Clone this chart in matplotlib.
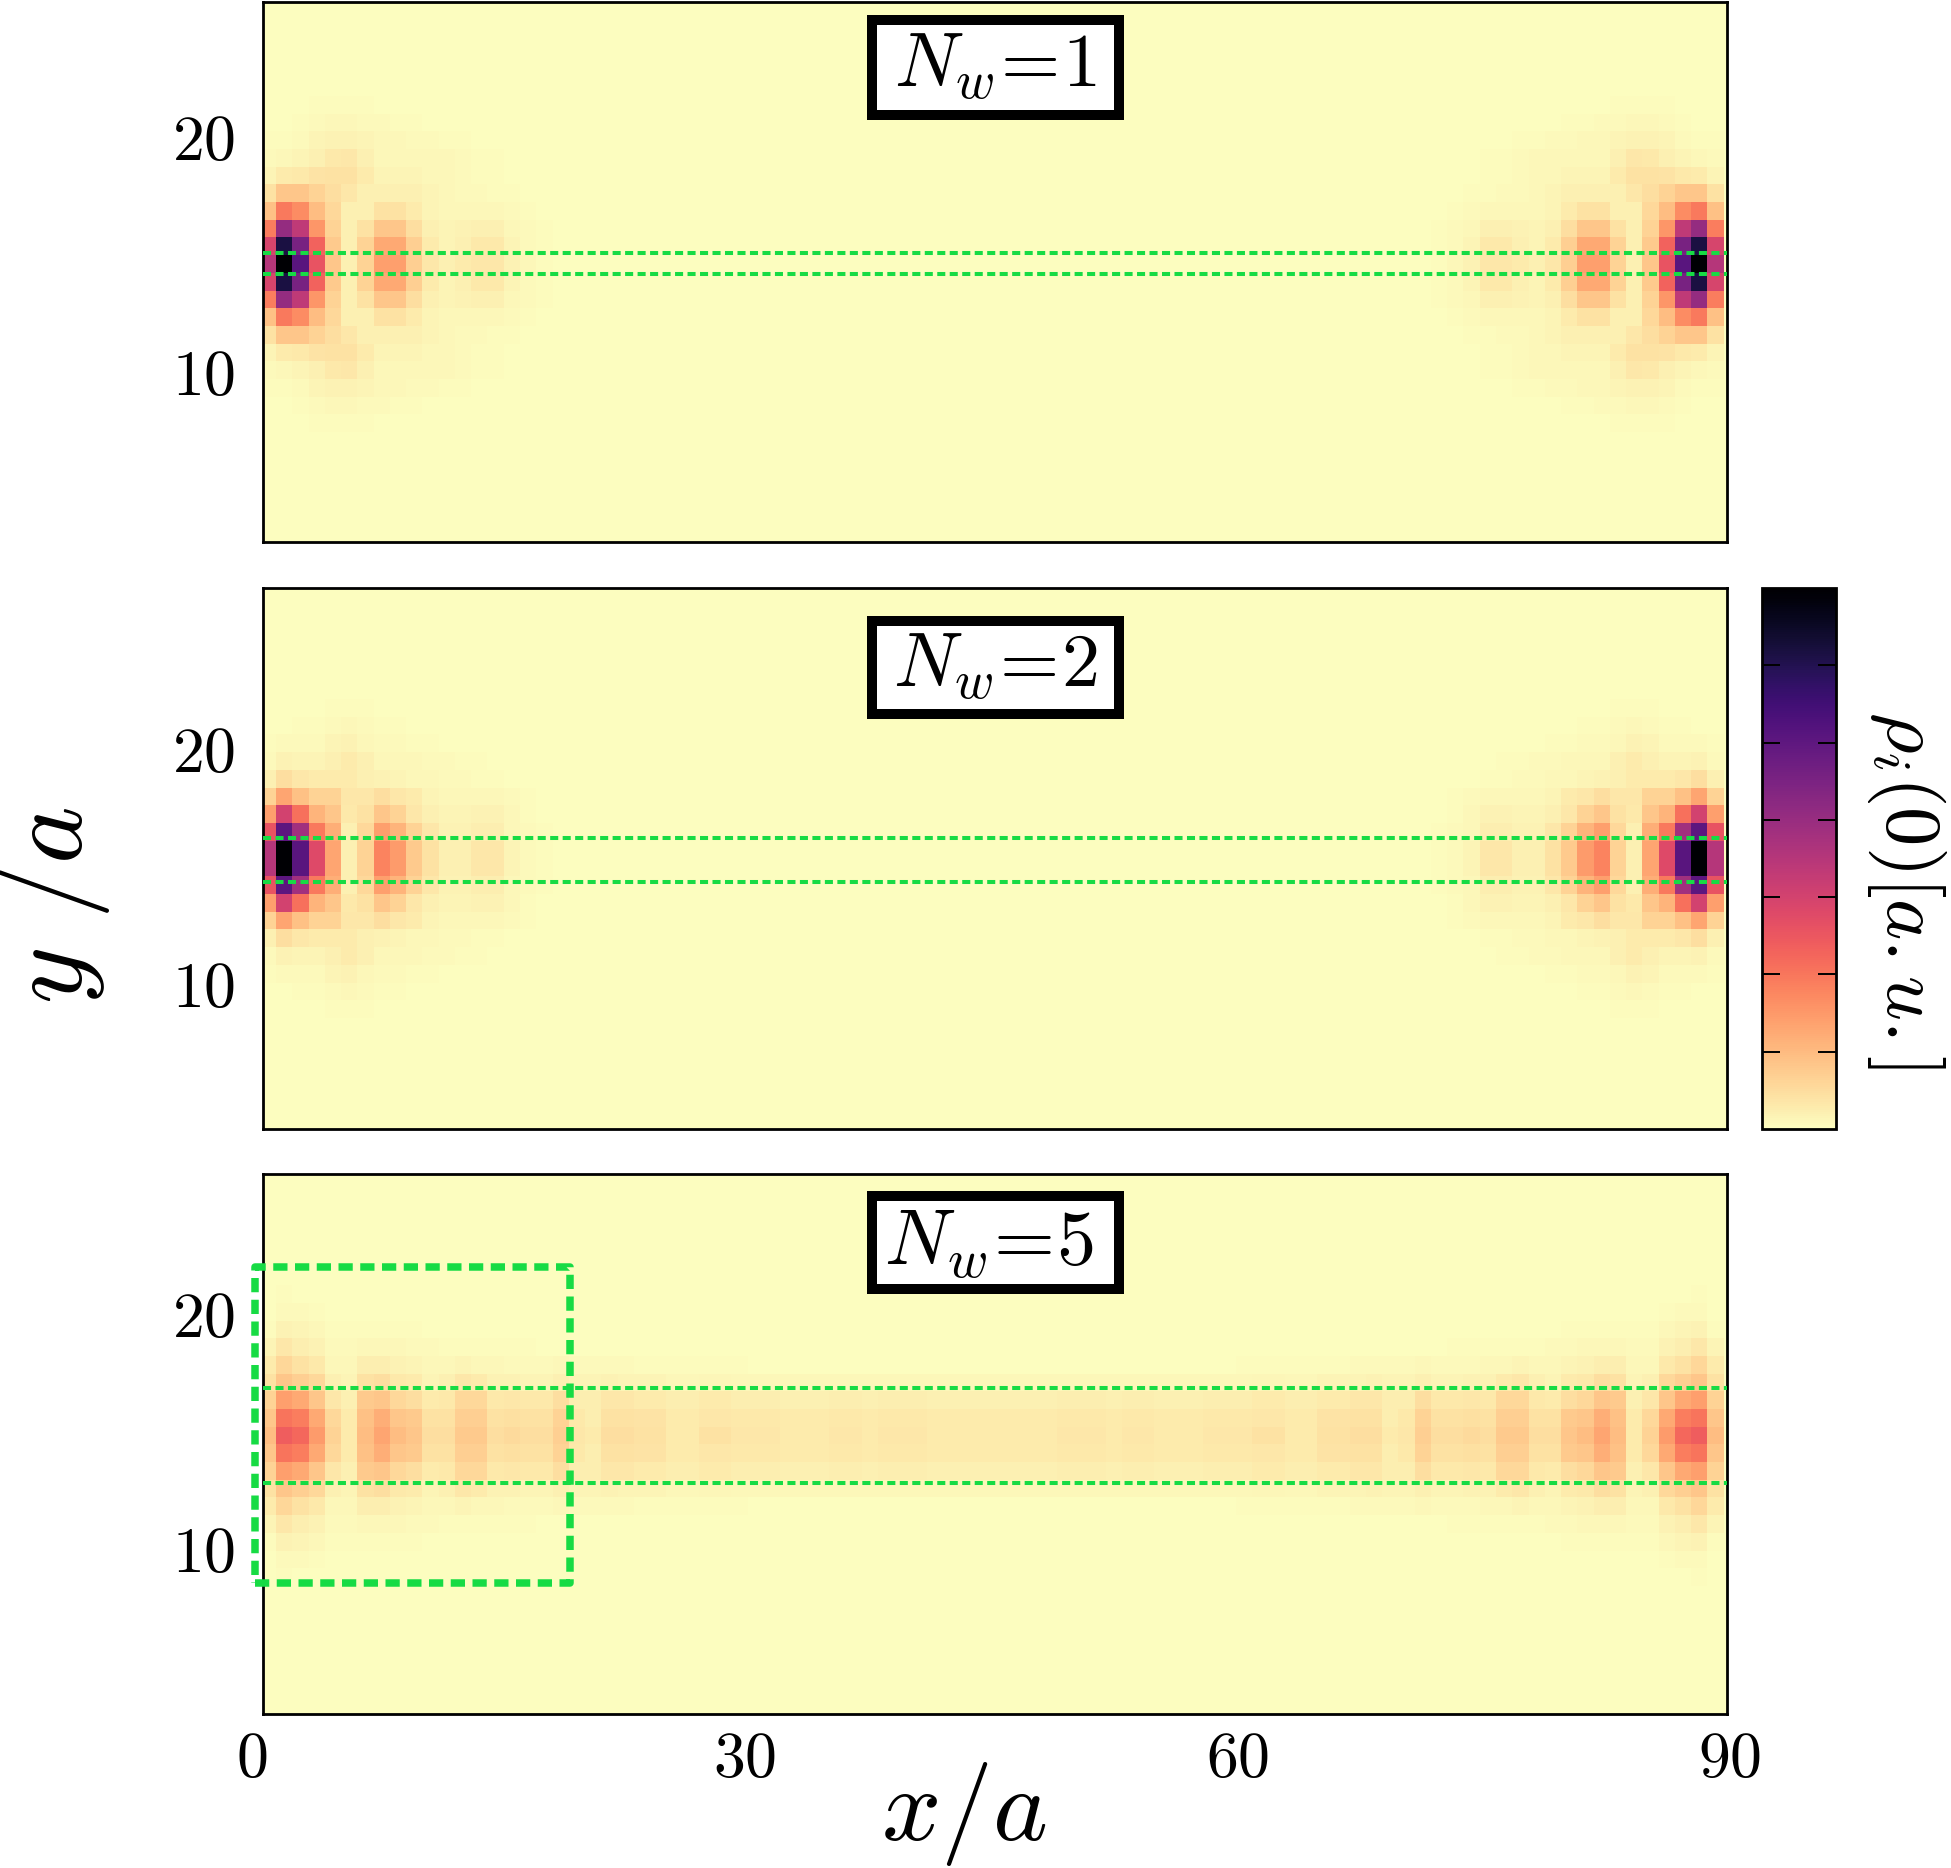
import numpy as np
import matplotlib
matplotlib.use('Agg')
import matplotlib.pyplot as plt
from matplotlib.patches import Rectangle
from matplotlib.transforms import ScaledTranslation
from matplotlib.cm import ScalarMappable
from matplotlib.colors import Normalize

plt.rcParams['mathtext.fontset'] = 'cm'
plt.rcParams['font.family'] = 'serif'
plt.rcParams['font.serif'] = ['cmr10', 'DejaVu Serif']
plt.rcParams['axes.formatter.use_mathtext'] = True
plt.rcParams['axes.unicode_minus'] = False

# Quadrant of each density map: rows run outward from the wire axis, columns from the left edge.
rho_nw1 = [
 [.50,1.0,.73,.37,.12,.03,.09,.20,.20,.10,.05,.03,.04,.05,.05,.025,.012,.006,.003],
 [.42,.88,.65,.33,.11,.03,.09,.18,.18,.10,.04,.02,.03,.045,.045,.022,.01,.005,.003],
 [.27,.58,.48,.22,.09,.03,.06,.12,.12,.07,.03,.02,.025,.03,.03,.015,.008,.004],
 [.13,.28,.24,.14,.08,.03,.03,.06,.06,.04,.02,.012,.012,.015,.015,.008,.004,.002],
 [.06,.12,.12,.09,.07,.05,.03,.03,.03,.03,.02,.012,.01,.008,.006,.004,.002],
 [.02,.04,.045,.055,.06,.06,.04,.02,.02,.02,.015,.012,.008,.006,.004,.002],
 [.01,.015,.02,.03,.045,.05,.03,.015,.015,.015,.012,.012,.01,.006,.004,.002],
 [.005,.005,.01,.02,.025,.025,.02,.012,.012,.01,.008,.006,.004,.002],
 [.003,.003,.004,.008,.012,.012,.008,.008,.006,.004,.003,.002],
 [.001,.001,.002,.004,.006,.006,.004,.003,.002,.002],
]
rho_nw2 = [
 [.50,1.0,.73,.40,.19,.03,.09,.26,.21,.11,.06,.03,.03,.05,.05,.02,.01,.005,.003],
 [.37,.72,.55,.28,.17,.03,.08,.20,.16,.09,.05,.025,.025,.035,.035,.015,.008,.004,.002],
 [.20,.43,.30,.16,.12,.045,.06,.12,.09,.05,.03,.02,.02,.025,.025,.012,.006,.003],
 [.09,.19,.13,.09,.09,.05,.05,.07,.05,.04,.02,.015,.012,.012,.012,.008,.004,.002],
 [.03,.07,.05,.04,.04,.04,.03,.025,.02,.015,.012,.01,.008,.006,.005,.003],
 [.01,.025,.02,.02,.03,.04,.03,.015,.015,.012,.01,.008,.006,.004,.002],
 [.005,.01,.01,.01,.02,.025,.015,.01,.008,.006,.004,.003],
 [.002,.003,.004,.005,.008,.012,.008,.006,.004,.003,.002],
 [.001,.001,.002,.003,.004,.006,.004,.003,.002],
]
rho_nw5 = [
 [.14,.34,.32,.21,.09,.04,.14,.19,.14,.12,.07,.07,.11,.11,.07,.075,.07,.07,.10,.05,.04,.07,.07,.06,.06,.04,.04,.06,.06,.05,.05,.05,.04,.04,.04,.05,.05,.04,.05,.05,.05,.04,.04,.04,.04],
 [.12,.29,.27,.18,.08,.04,.13,.17,.12,.11,.06,.06,.10,.10,.06,.065,.06,.06,.09,.045,.035,.06,.06,.055,.055,.04,.04,.05,.05,.045,.045,.045,.04,.04,.04,.045,.045,.04,.045,.045,.045,.04,.04,.04,.04],
 [.09,.20,.18,.12,.05,.03,.11,.12,.08,.07,.04,.045,.08,.08,.045,.05,.045,.045,.07,.035,.035,.05,.05,.04,.04,.035,.035,.04,.04,.035,.035,.035,.03,.03,.03,.035,.035,.03,.035,.035,.035,.03,.03,.03,.03],
 [.06,.12,.10,.08,.03,.02,.06,.07,.045,.04,.02,.03,.05,.04,.025,.025,.02,.02,.03,.02,.02,.025,.02,.02,.02,.015,.015,.018,.018,.015,.015,.015,.012,.012,.012,.015,.015,.012,.015,.015,.015,.012,.012,.012,.012],
 [.04,.085,.06,.045,.015,.012,.035,.035,.025,.02,.012,.015,.02,.015,.012,.01,.01,.01,.012,.01,.008,.008,.008,.006,.006,.005,.005,.005,.005,.005],
 [.02,.05,.035,.025,.008,.008,.015,.015,.012,.01,.008,.006,.006,.006,.005,.004,.004],
 [.005,.025,.02,.012,.005,.005,.006,.006,.005,.004,.003],
 [.003,.01,.008,.006,.003,.002,.002],
 [.002,.004,.003,.002],
]
wire_labels = ['1', '2', '5']
centre_y = [14.63, 15.35, 14.87]
centre_on_row = [True, False, True]
wire_edges = [(15.11, 14.22), (16.21, 14.34), (16.91, 12.84)]
ylims = [(2.80, 25.78), (3.86, 26.84), (3.02, 26.0)]
xticks = [0, 30, 60, 90]
yticks = [10, 20]
box_x = (-0.5, 18.87)
box_y = (8.6, 22.04)
row_pitch = 0.753
first_edge = -0.2
GREEN = '#17db44'
W, H = 1951, 1868
dpi = 100

def panel_grid(quad, on_row):
    half = np.zeros((len(quad), 45))
    for i, r in enumerate(quad):
        half[i, :len(r)] = r
    full = np.hstack([half, half[:, ::-1]])
    if on_row:
        return np.vstack([full[:0:-1], full])
    return np.vstack([full[::-1], full])

fig = plt.figure(figsize=(W / dpi, H / dpi), dpi=dpi)
def axpx(l, t, r, b):
    return fig.add_axes([l / W, 1 - b / H, (r - l) / W, (b - t) / H])

tops = [(2, 542), (588, 1129), (1174, 1714)]
boxes = [(15, 120), (616, 719), (1191, 1294)]
label_dx = [0, 0, -0.004]
label_dy = [0, 0, -0.004]
label_fs = [55, 55, 56.5]
cmap = plt.get_cmap('magma_r')
for i, quad in enumerate([rho_nw1, rho_nw2, rho_nw5]):
    t, b = tops[i]
    ax = axpx(263, t, 1727, b)
    ax.set_facecolor(cmap(0.0))
    Z = panel_grid(quad, centre_on_row[i])
    xe = first_edge + np.arange(Z.shape[1] + 1)
    n = Z.shape[0]
    ye = centre_y[i] + row_pitch * (np.arange(n + 1) - n / 2)
    ax.pcolormesh(xe, ye, Z, cmap=cmap, vmin=0, vmax=1, shading='flat', rasterized=True)
    ax.set_xlim(0, 90)
    ax.set_ylim(*ylims[i])
    ax.set_yticks(yticks)
    ax.set_yticklabels([f'${v}$' for v in yticks], fontsize=46)
    ax.set_xticks([])
    ax.tick_params(axis='y', length=0, pad=20)
    for s in ax.spines.values():
        s.set_linewidth(2.0)
    for y in wire_edges[i]:
        ax.plot([0, 90], [y, y], color=GREEN, lw=2.9, dashes=(2.0, 1.1), zorder=3)
    bt, bb = boxes[i]
    ph = b - t
    ax.add_patch(Rectangle(((872 - 263) / 1464, 1 - (bb - 5 - t) / ph), (1119 - 872) / 1464,
                           (bb - bt - 10) / ph, transform=ax.transAxes, facecolor='white',
                           edgecolor='black', lw=7.2, zorder=5))
    ax.text(0.5 + label_dx[i], 1 - ((bt + bb) / 2 - t) / ph + label_dy[i], rf'$N_w\!=\!{wire_labels[i]}$',
            transform=ax.transAxes, ha='center', va='center', fontsize=label_fs[i], zorder=6)
    if i == 2:
        ax.set_xticks(xticks)
        ax.set_xticklabels([f'${v}$' for v in xticks], fontsize=46)
        ax.tick_params(axis='x', length=0, labelbottom=True, pad=13)
        for lab, dx in zip(ax.get_xticklabels(), [-11, -6, -1, 3]):
            lab.set_transform(lab.get_transform() + ScaledTranslation(dx / dpi, 0, fig.dpi_scale_trans))
        ax.plot([box_x[0], box_x[1], box_x[1], box_x[0], box_x[0]],
                [box_y[0], box_y[0], box_y[1], box_y[1], box_y[0]],
                color=GREEN, lw=5.4, dashes=(1.9, 1.0), clip_on=False, zorder=4)

cax = axpx(1762, 588, 1836, 1129)
cb = fig.colorbar(ScalarMappable(Normalize(0, 1), cmap), cax=cax)
cb.set_ticks(np.arange(1, 7) / 7)
cb.ax.tick_params(direction='in', left=True, right=True, labelright=False, length=13, width=1.4)
cb.outline.set_linewidth(2.0)

fig.text(1906 / W, 1 - 890 / H, r'$\rho_i(0)[a{.}u{.}]$', rotation=270, ha='center', va='center', fontsize=56.5)
fig.text(54 / W, 1 - 905 / H, r'$y\ /a$', rotation=90, ha='center', va='center', fontsize=79)
fig.text(964 / W, 1 - 1814 / H, r'$x/a$', ha='center', va='center', fontsize=75)
fig.savefig('out.png', dpi=dpi)
